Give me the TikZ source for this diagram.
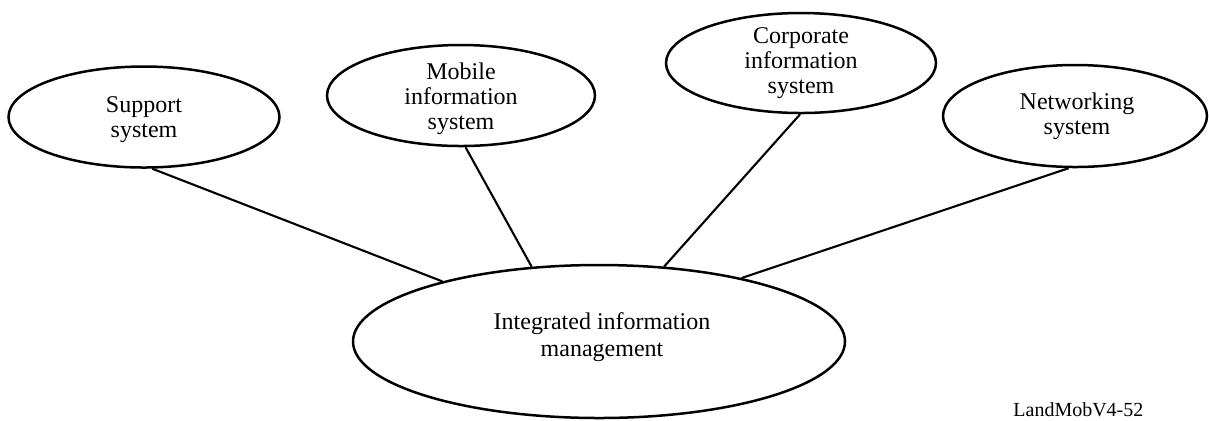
\documentclass[tikz,border=0pt]{standalone}
\usepackage{fontspec}
\setmainfont{Liberation Serif}
\usetikzlibrary{shapes.geometric}

\begin{document}
\begin{tikzpicture}[
    x=0.5pt, y=-0.5pt,
    bubble/.style={draw, ellipse, line width=1.25pt, inner sep=0pt},
    bubbletext/.style={align=center, inner sep=0pt, font=\fontsize{12}{12.5}\selectfont},
    link/.style={line width=1.05pt},
    tag/.style={anchor=base west, inner sep=0pt, font=\fontsize{10}{12}\selectfont}
  ]
  \useasboundingbox (0,0) rectangle (1209,420);

  % Bubbles
  \node[bubble, minimum width=135.5pt, minimum height=50.5pt] (sup) at (144,117)   {};
  \node[bubble, minimum width=134pt,   minimum height=50.5pt] (mob) at (461,95.5)  {};
  \node[bubble, minimum width=135pt,   minimum height=50pt]   (cor) at (801,63)    {};
  \node[bubble, minimum width=132pt,   minimum height=51pt]   (net) at (1075,116)  {};
  \node[bubble, minimum width=246pt,   minimum height=76.5pt] (iim) at (599,341.5) {};

  % Texts
  \node[bubbletext] (suptext) at ([yshift=-1.5pt]sup.center) {Support\\system};
  \node[bubbletext] (mobtext) at ([yshift=-1.5pt]mob.center) {Mobile\\information\\system};
  \node[bubbletext] (cortext) at (cor.center) {Corporate\\information\\system};
  \node[bubbletext] (nettext) at ([xshift=1pt]net.center) {Networking\\system};
  \node[bubbletext, font=\fontsize{12}{13.5}\selectfont] (iimtext) at ([xshift=1.5pt, yshift=2pt]iim.center) {Integrated information\\management};

  % Connectors
  \draw[link] (sup.-81) -- (iim.159.7);
  \draw[link] (mob.-85) -- (iim.132);
  \draw[link] (cor.-91) -- (iim.49.3);
  \draw[link] (net.-97) -- (iim.24.2);

  % Figure tag
  \node[tag] (figtag) at (1013,416) {LandMobV4-52};

\end{tikzpicture}
\end{document}
